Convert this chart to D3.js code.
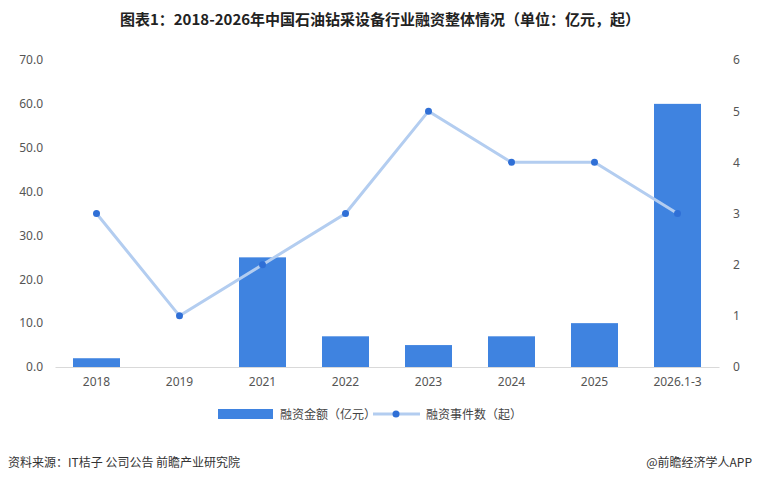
<!DOCTYPE html>
<html><head><meta charset="utf-8">
<script src="https://cdn.jsdelivr.net/npm/d3@7"></script>
<style>body{margin:0;background:#fff;font-family:"Noto Sans CJK SC","Noto Sans",sans-serif;}</style>
</head><body>
<svg id="chart" width="760" height="483"></svg>
<script>
var years = ["2018","2019","2021","2022","2023","2024","2025","2026.1-3"];
var amount = [2, 0, 25, 7, 5, 7, 10, 60];
var events = [3, 1, 2, 3, 5, 4, 4, 3];
var leftTicks = [0,10,20,30,40,50,60,70];
var rightTicks = [0,1,2,3,4,5,6];

var svg = d3.select("#chart");
var x = d3.scaleBand().domain(years).range([55, 719]);
var yL = d3.scaleLinear().domain([0, 70]).range([367, 60]);
var yR = d3.scaleLinear().domain([0, 6]).range([367, 60]);

svg.append("text").attr("x", 380).attr("y", 25).attr("text-anchor", "middle")
    .attr("font-size", 15).attr("font-weight", "bold").attr("fill", "#222")
    .text("图表1：2018-2026年中国石油钻采设备行业融资整体情况（单位：亿元，起）");

var gL = svg.append("g").attr("transform", "translate(55,0)")
    .call(d3.axisLeft(yL).tickValues(leftTicks).tickFormat(d3.format(".1f")).tickSize(0).tickPadding(12));
var gR = svg.append("g").attr("transform", "translate(719,0)")
    .call(d3.axisRight(yR).tickValues(rightTicks).tickFormat(d3.format("d")).tickSize(0).tickPadding(14));
var gX = svg.append("g").attr("transform", "translate(0,367)")
    .call(d3.axisBottom(x).tickSize(0).tickPadding(10));
[gL, gR, gX].forEach(function(g) {
    g.selectAll("text").attr("font-size", 12).attr("fill", "#555").attr("font-family", "Noto Sans, sans-serif");
    g.select(".domain").attr("stroke", gX === g ? "#d9d9d9" : "none");
});

svg.selectAll("rect.bar").data(amount).enter().append("rect").attr("class", "bar")
    .attr("x", function(d, i) { return x(years[i]) + x.bandwidth() / 2 - 23.5; })
    .attr("width", 47)
    .attr("y", function(d) { return yL(d); })
    .attr("height", function(d) { return 367 - yL(d); })
    .attr("fill", "#3f83e0");

var line = d3.line()
    .x(function(d, i) { return x(years[i]) + x.bandwidth() / 2; })
    .y(function(d) { return yR(d); });
svg.append("path").datum(events).attr("d", line).attr("fill", "none")
    .attr("stroke", "#b3cdf0").attr("stroke-width", 3);
svg.selectAll("circle.pt").data(events).enter().append("circle").attr("class", "pt")
    .attr("cx", function(d, i) { return x(years[i]) + x.bandwidth() / 2; })
    .attr("cy", function(d) { return yR(d); })
    .attr("r", 3.5).attr("fill", "#2f6fd6");

// legend
var lg = svg.append("g").attr("font-size", 12).attr("fill", "#444");
lg.append("rect").attr("x", 218).attr("y", 409).attr("width", 55).attr("height", 10).attr("fill", "#3f83e0");
lg.append("text").attr("x", 280).attr("y", 419).text("融资金额（亿元）");
lg.append("line").attr("x1", 373).attr("x2", 420).attr("y1", 414).attr("y2", 414).attr("stroke", "#b3cdf0").attr("stroke-width", 3);
lg.append("circle").attr("cx", 396).attr("cy", 414).attr("r", 3.5).attr("fill", "#2f6fd6");
lg.append("text").attr("x", 426).attr("y", 419).text("融资事件数（起）");

svg.append("text").attr("x", 8).attr("y", 467).attr("font-size", 12).attr("fill", "#333")
    .text("资料来源：IT桔子 公司公告  前瞻产业研究院");
svg.append("text").attr("x", 752).attr("y", 467).attr("text-anchor", "end").attr("font-size", 12).attr("fill", "#333")
    .text("@前瞻经济学人APP");
</script>
</body></html>
